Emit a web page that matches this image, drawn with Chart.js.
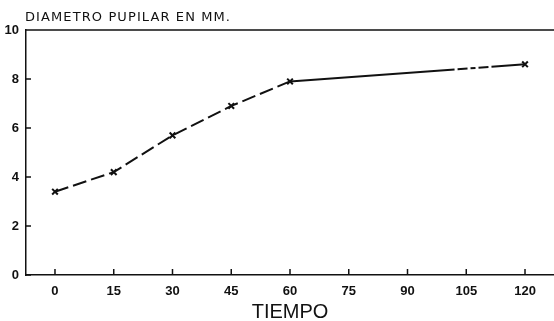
<!DOCTYPE html>
<html>
<head>
<meta charset="utf-8">
<script src="https://cdn.jsdelivr.net/npm/chart.js@4"></script>
<style>
  html, body { margin: 0; padding: 0; background: #fff; overflow: hidden; }
  canvas { display: block; }
</style>
</head>
<body>
<canvas id="pupil" width="554" height="321"></canvas>
<script>
// data
const tiempo = [0, 15, 30, 45, 60, 120];
const diametro = [3.4, 4.2, 5.7, 6.9, 7.9, 8.6];
const xTicks = [0, 15, 30, 45, 60, 75, 90, 105, 120];
const yTicks = [0, 2, 4, 6, 8, 10];
const titulo = 'DIAMETRO PUPILAR EN MM.';

// title, inward tick marks + top border line
const frame = {
  id: 'frame',
  afterDraw(chart) {
    const ctx = chart.ctx, a = chart.chartArea;
    const xs = chart.scales.x, ys = chart.scales.y;
    ctx.save();
    ctx.fillStyle = '#111';
    ctx.font = '13px "DejaVu Sans"';
    ctx.letterSpacing = '1.1px';
    ctx.textBaseline = 'alphabetic';
    ctx.textAlign = 'left';
    ctx.fillText(titulo, 25, 21);
    ctx.letterSpacing = '0px';

    ctx.strokeStyle = '#111';
    ctx.lineWidth = 1.5;
    ctx.beginPath();
    ctx.moveTo(a.left, a.top);
    ctx.lineTo(chart.width, a.top);
    xTicks.forEach(v => {
      const px = xs.getPixelForValue(v);
      ctx.moveTo(px, a.bottom);
      ctx.lineTo(px, a.bottom - 6);
    });
    yTicks.forEach(v => {
      const py = ys.getPixelForValue(v);
      ctx.moveTo(a.left, py);
      ctx.lineTo(a.left + 5, py);
    });
    ctx.stroke();
    ctx.restore();
  }
};

new Chart(document.getElementById('pupil').getContext('2d'), {
  type: 'line',
  data: {
    datasets: [{
      data: tiempo.map((t, i) => ({ x: t, y: diametro[i] })),
      borderColor: '#111',
      borderWidth: 2,
      borderDash: [14, 5],
      segment: {
        // long last stretch: mostly solid with a dash-dot part near the end
        borderDash: c => c.p0DataIndex === 4 ? [165, 3, 10, 3, 5, 3, 10, 3, 80] : undefined
      },
      pointStyle: 'crossRot',
      pointRadius: 4,
      pointBorderWidth: 2,
      pointBorderColor: '#111',
      tension: 0
    }]
  },
  options: {
    responsive: false,
    animation: false,
    layout: { autoPadding: false, padding: { top: 30, left: 0, right: 0, bottom: 0 } },
    plugins: {
      legend: { display: false },
      tooltip: { enabled: false },
      title: { display: false }
    },
    scales: {
      x: {
        type: 'linear',
        min: -7.4,
        max: 127.4,
        afterBuildTicks: s => { s.ticks = xTicks.map(v => ({ value: v })); },
        afterFit: s => { s.height = 46; },
        grid: { display: false, drawTicks: false },
        border: { color: '#111', width: 1.5 },
        ticks: {
          color: '#111',
          padding: 9,
          maxRotation: 0,
          font: { family: 'Liberation Sans', size: 13, weight: 'bold' }
        },
        title: {
          display: true,
          text: 'TIEMPO',
          color: '#111',
          padding: { top: 0, bottom: -1 },
          font: { family: 'Liberation Sans', size: 20, lineHeight: 1 }
        }
      },
      y: {
        min: 0,
        max: 10,
        afterBuildTicks: s => { s.ticks = yTicks.map(v => ({ value: v })); },
        afterFit: s => { s.width = 26; },
        grid: { display: false, drawTicks: false },
        border: { color: '#111', width: 1.5 },
        ticks: {
          color: '#111',
          padding: 7,
          font: { family: 'Liberation Sans', size: 13, weight: 'bold' }
        }
      }
    }
  },
  plugins: [frame]
});
</script>
</body>
</html>
